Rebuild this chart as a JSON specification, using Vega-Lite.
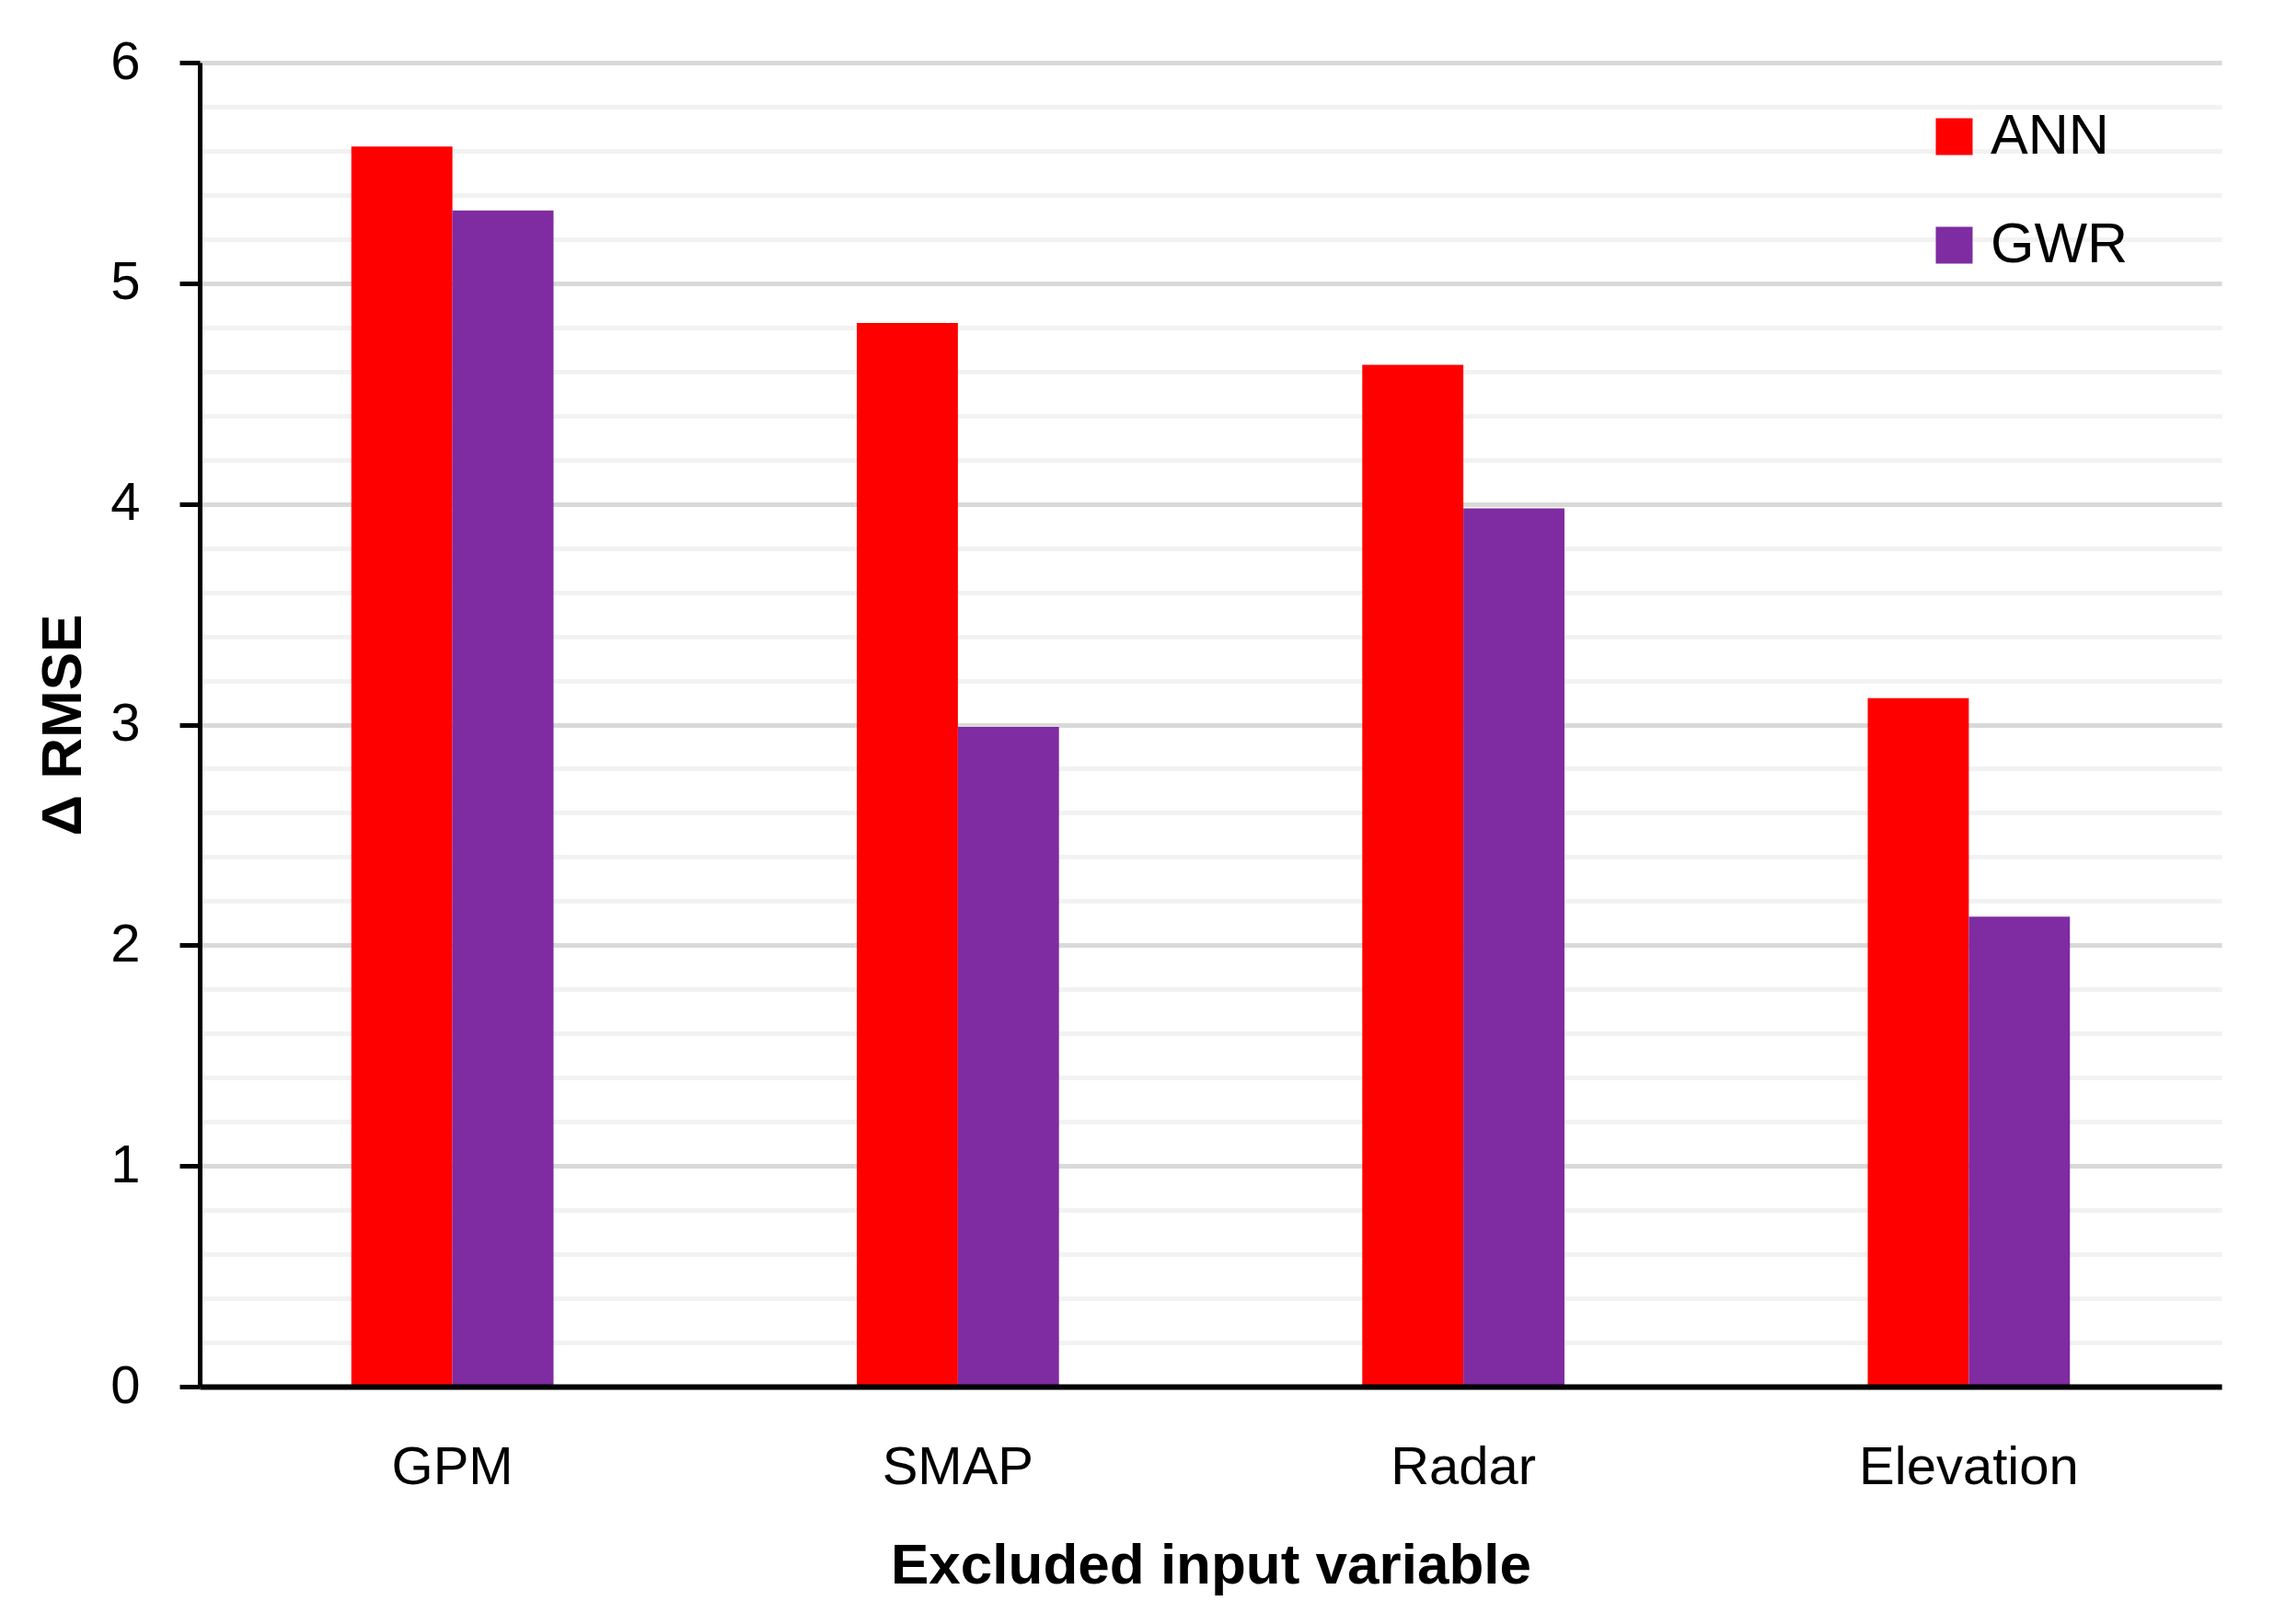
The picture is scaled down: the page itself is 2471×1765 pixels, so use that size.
{
  "$schema": "https://vega.github.io/schema/vega-lite/v6.json",
  "width": 2197,
  "height": 1439,
  "autosize": {"type": "none"},
  "padding": {"left": 217, "top": 68, "right": 57, "bottom": 258},
  "background": "white",
  "config": {
    "view": {"stroke": null},
    "font": "Liberation Sans"
  },
  "data": {
    "values": [
      {"variable": "GPM", "model": "ANN", "rmse": 5.62},
      {"variable": "GPM", "model": "GWR", "rmse": 5.33},
      {"variable": "SMAP", "model": "ANN", "rmse": 4.82},
      {"variable": "SMAP", "model": "GWR", "rmse": 2.99},
      {"variable": "Radar", "model": "ANN", "rmse": 4.63},
      {"variable": "Radar", "model": "GWR", "rmse": 3.98},
      {"variable": "Elevation", "model": "ANN", "rmse": 3.12},
      {"variable": "Elevation", "model": "GWR", "rmse": 2.13}
    ]
  },
  "mark": {"type": "bar"},
  "encoding": {
    "x": {
      "field": "variable",
      "type": "nominal",
      "sort": ["GPM", "SMAP", "Radar", "Elevation"],
      "scale": {"paddingInner": 0.6, "paddingOuter": 0.3},
      "title": "Excluded input variable",
      "axis": {
        "zindex": 1,
        "labelAngle": 0,
        "labelLimit": 0,
        "ticks": false,
        "tickSize": 0,
        "domainColor": "black",
        "domainWidth": 6,
        "labelFont": "Liberation Sans",
        "labelFontSize": 58,
        "labelColor": "black",
        "labelPadding": 59,
        "titleFont": "Liberation Sans",
        "titleFontSize": 62,
        "titleFontWeight": "bold",
        "titleColor": "black",
        "titlePadding": 47,
        "grid": false
      }
    },
    "xOffset": {"field": "model", "type": "nominal", "sort": ["ANN", "GWR"]},
    "y": {
      "field": "rmse",
      "type": "quantitative",
      "scale": {"domain": [0, 6], "nice": false},
      "title": "Δ RMSE",
      "axis": {
        "values": [0, 0.2, 0.4, 0.6, 0.8, 1, 1.2, 1.4, 1.6, 1.8, 2, 2.2, 2.4, 2.6, 2.8, 3, 3.2, 3.4, 3.6, 3.8, 4, 4.2, 4.4, 4.6, 4.8, 5, 5.2, 5.4, 5.6, 5.8, 6],
        "labelExpr": "datum.value % 1 === 0 ? format(datum.value, 'd') : ''",
        "labelOverlap": false,
        "grid": true,
        "gridWidth": 5,
        "gridColor": {"condition": {"test": "datum.value % 1 === 0", "value": "#D9D9D9"}, "value": "#F2F2F2"},
        "tickOpacity": {"condition": {"test": "datum.value % 1 === 0", "value": 1}, "value": 0},
        "tickColor": "black",
        "tickSize": 22,
        "tickWidth": 5,
        "domainColor": "black",
        "domainWidth": 5,
        "labelFont": "Liberation Sans",
        "labelFontSize": 58,
        "labelColor": "black",
        "labelPadding": 43,
        "titleFont": "Liberation Sans",
        "titleFontSize": 62,
        "titleFontWeight": "bold",
        "titleColor": "black",
        "titleBaseline": "alphabetic",
        "titlePadding": 32
      }
    },
    "color": {
      "field": "model",
      "type": "nominal",
      "scale": {"domain": ["ANN", "GWR"], "range": ["#FF0000", "#7F2BA1"]},
      "legend": {
        "title": null,
        "orient": "none",
        "legendX": 1876,
        "legendY": 50,
        "direction": "vertical",
        "padding": 0,
        "symbolType": "square",
        "symbolSize": 1600,
        "symbolStrokeWidth": 0,
        "symbolOpacity": 1,
        "labelFont": "Liberation Sans",
        "labelFontSize": 61,
        "labelColor": "black",
        "labelOffset": 9,
        "rowPadding": 56
      }
    }
  }
}
